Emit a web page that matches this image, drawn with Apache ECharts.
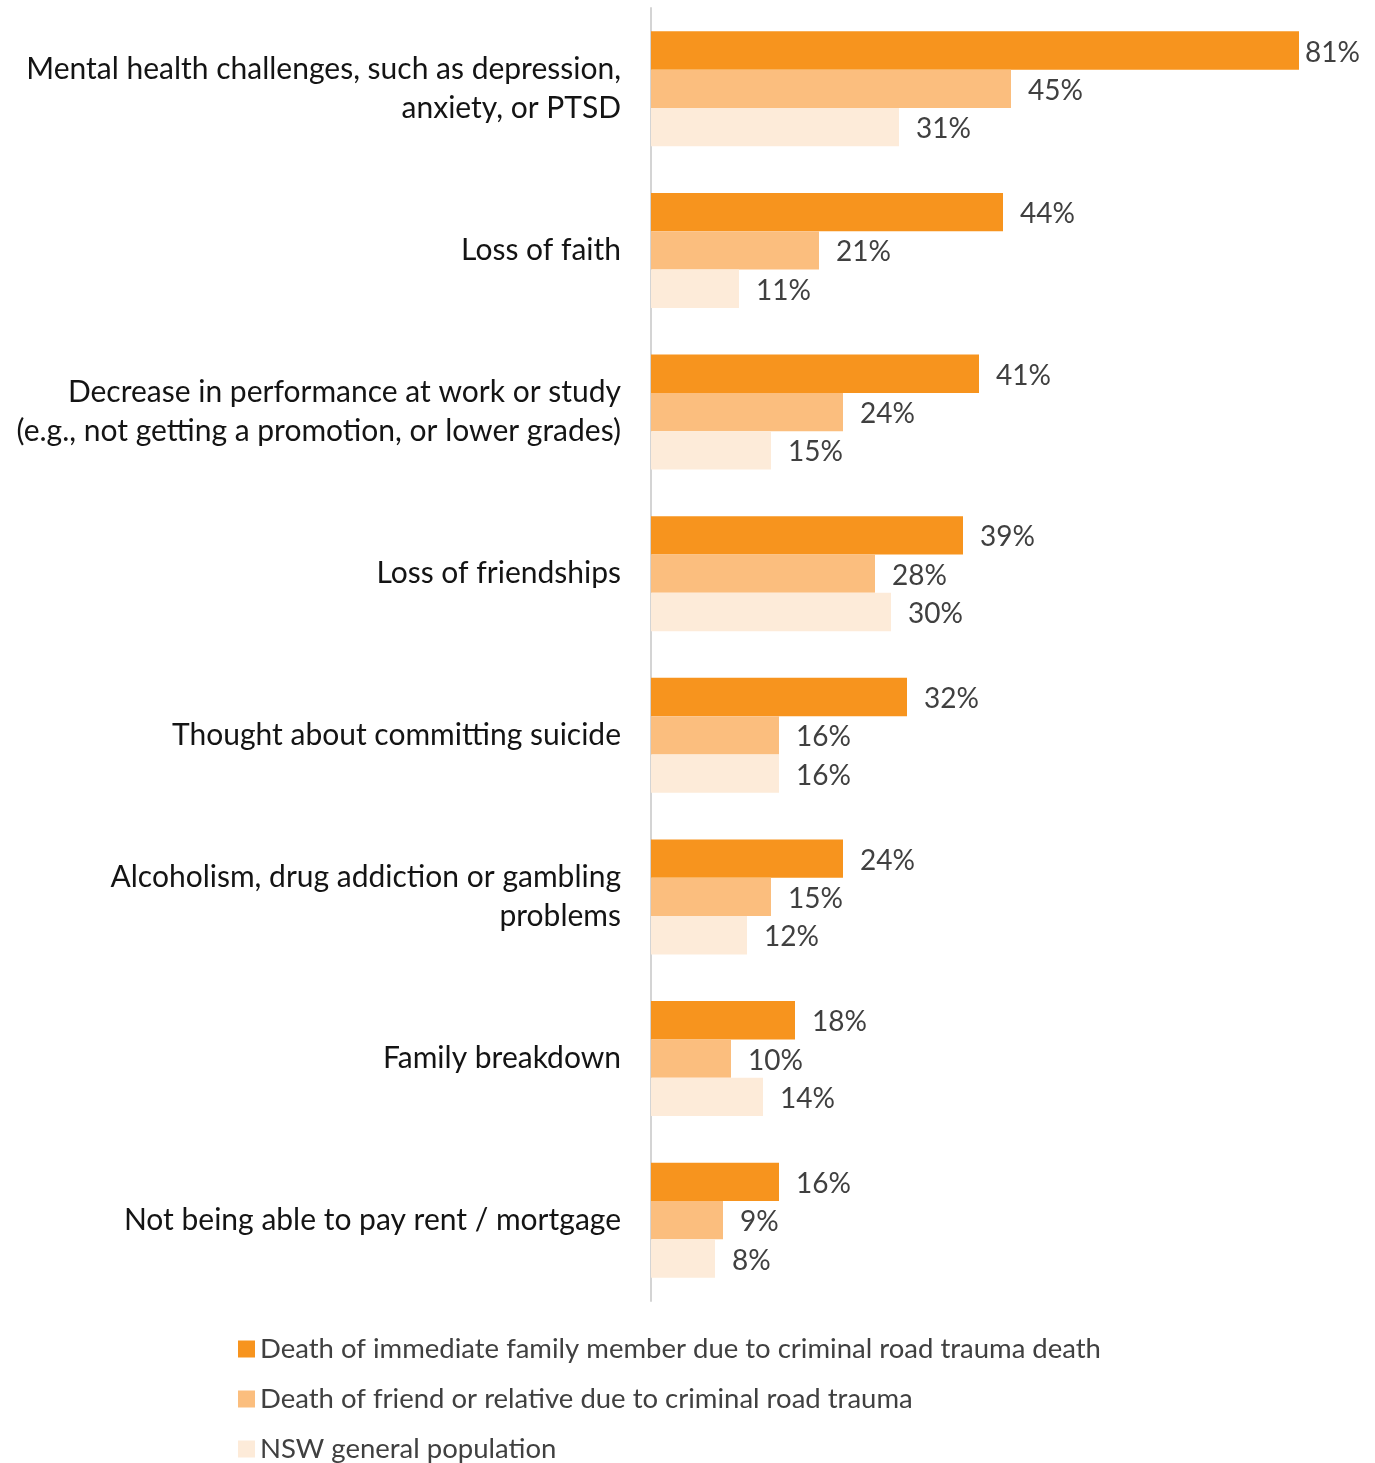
<!DOCTYPE html>
<html>
<head>
<meta charset="utf-8">
<title>Impacts of criminal road trauma</title>
<script src="https://cdn.jsdelivr.net/npm/echarts@6/dist/echarts.min.js"></script>
<style>
  html, body { margin: 0; padding: 0; background: #ffffff; }
  #chart { width: 1375px; height: 1463px; }
</style>
</head>
<body>
<div id="chart"></div>
<script>
// Impacts reported, by group (percent of respondents)
const categories = [
  'Mental health challenges, such as depression,\nanxiety, or PTSD',
  'Loss of faith',
  'Decrease in performance at work or study\n(e.g., not getting a promotion, or lower grades)',
  'Loss of friendships',
  'Thought about committing suicide',
  'Alcoholism, drug addiction or gambling\nproblems',
  'Family breakdown',
  'Not being able to pay rent / mortgage'
];
const seriesNames = [
  'Death of immediate family member due to criminal road trauma death',
  'Death of friend or relative due to criminal road trauma',
  'NSW general population'
];
const immediateFamily = [81, 44, 41, 39, 32, 24, 18, 16];
const friendOrRelative = [45, 21, 24, 28, 16, 15, 10, 9];
const nswPopulation = [31, 11, 15, 30, 16, 12, 14, 8];
const colors = ['#F7941E', '#FBBE7E', '#FDEBD9'];

const FONT = 'Lato';
const chart = echarts.init(document.getElementById('chart'), null, { renderer: 'canvas' });

function makeSeries(name, values, color) {
  return {
    name: name,
    type: 'bar',
    barWidth: 38.3,
    barGap: '0%',
    itemStyle: { color: color },
    // the longest bar keeps its label tight so it stays inside the frame
    data: values.map(v => (v >= 80 ? { value: v, label: { distance: 6 } } : v)),
    label: {
      show: true,
      position: 'right',
      distance: 17,
      offset: [0, 2],
      formatter: '{c}%',
      color: '#404040',
      fontFamily: FONT,
      fontSize: 28
    }
  };
}

// one legend block per series, stacked down the bottom-left
const legendTops = [1335, 1385, 1435];
const legends = seriesNames.map((name, i) => ({
  orient: 'vertical',
  left: 238,
  top: legendTops[i],
  padding: 0,
  icon: 'rect',
  itemWidth: 17,
  itemHeight: 17,
  itemGap: 6,
  textStyle: { color: '#404040', fontFamily: FONT, fontSize: 27.5 },
  data: [name]
}));

chart.setOption({
  animation: false,
  backgroundColor: '#ffffff',
  grid: { left: 651, right: 4, top: 8, height: 1293, containLabel: false },
  xAxis: {
    type: 'value', min: 0, max: 90, show: false,
    splitLine: { show: false }
  },
  yAxis: {
    type: 'category',
    inverse: true,
    data: categories,
    axisLine: { show: true, lineStyle: { color: '#d4d4d4', width: 2 } },
    axisTick: { show: false },
    axisLabel: {
      margin: 30,
      color: '#141414',
      fontFamily: FONT,
      fontSize: 30,
      lineHeight: 39,
      align: 'right'
    }
  },
  legend: legends,
  series: [
    makeSeries(seriesNames[0], immediateFamily, colors[0]),
    makeSeries(seriesNames[1], friendOrRelative, colors[1]),
    makeSeries(seriesNames[2], nswPopulation, colors[2])
  ]
});
</script>
</body>
</html>
